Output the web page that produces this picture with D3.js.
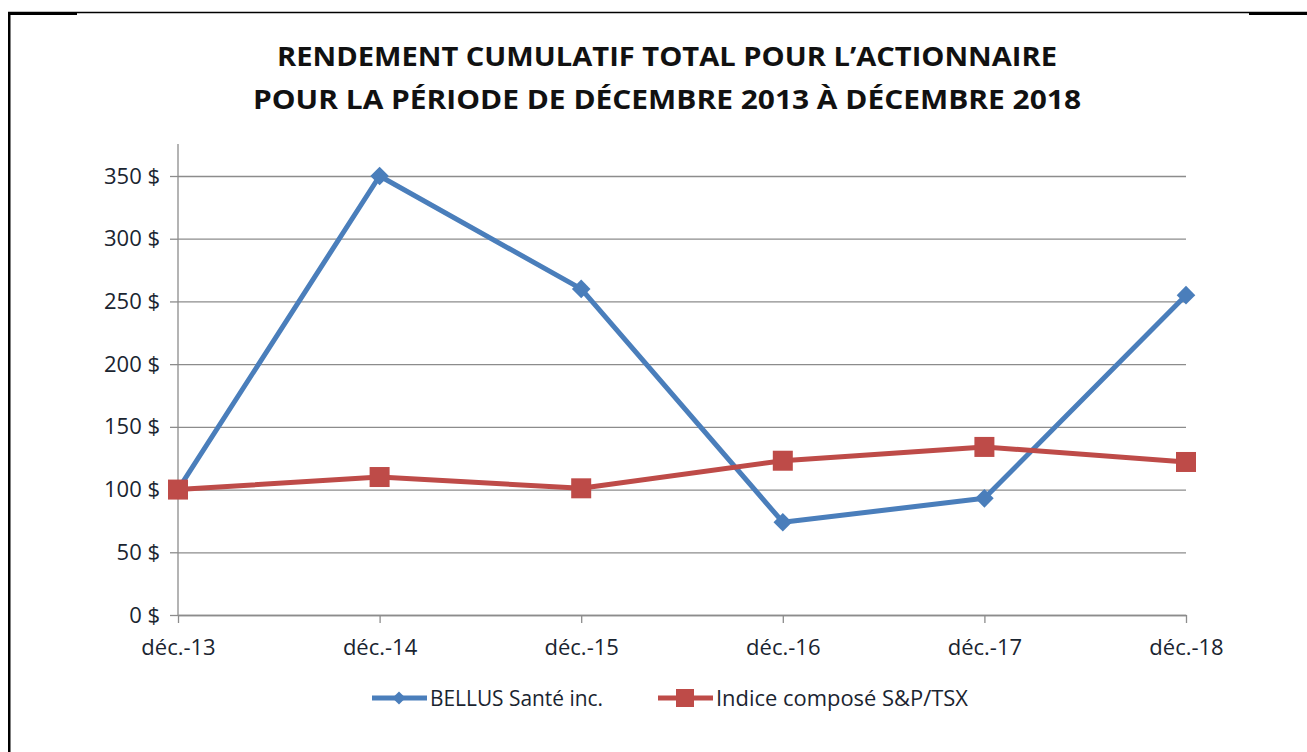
<!DOCTYPE html>
<html>
<head>
<meta charset="utf-8">
<script src="https://cdn.jsdelivr.net/npm/d3@7"></script>
<style>
  body { margin: 0; background: #fff; }
  text { font-family: "Open Sans", "Liberation Sans", sans-serif; }
</style>
</head>
<body>
<script>
const width = 1307;
const height = 752;

const categories = ["déc.-13", "déc.-14", "déc.-15", "déc.-16", "déc.-17", "déc.-18"];
const bellusValues = [100, 350, 260, 74, 93, 255];
const tsxValues = [100, 110, 101, 123, 134, 122];
const yTicks = [0, 50, 100, 150, 200, 250, 300, 350];
const seriesNames = ["BELLUS Santé inc.", "Indice composé S&P/TSX"];
const titleLines = ["RENDEMENT CUMULATIF TOTAL POUR L’ACTIONNAIRE", "POUR LA PÉRIODE DE DÉCEMBRE 2013 À DÉCEMBRE 2018"];

const blueColor = "#4A7EBB";
const redColor = "#BE4B48";
const gridColor = "#8c8c8c";
const labelSize = "22px";

const plot = { left: 178, right: 1186, top: 144, zero: 615 };

const scale = {
  x: d3.scalePoint().domain(categories).range([plot.left, plot.right]),
  y: d3.scaleLinear().domain([0, 350]).range([plot.zero, 176])
};

const svg = d3.select("body")
  .append("svg")
  .attr("width", width)
  .attr("height", height);

appendFrame(svg);
appendTitle(svg);
appendGrid(svg);
appendLines(svg);
appendLegend(svg);

function appendFrame(svg) {
  // thin top rule with thick ends, thick left edge
  svg.append("line").attr("x1", 8).attr("x2", 1307).attr("y1", 12.5).attr("y2", 12.5)
    .attr("stroke", "#000").attr("stroke-width", 1.5);
  svg.append("rect").attr("x", 8).attr("y", 12).attr("width", 69).attr("height", 3).attr("fill", "#000");
  svg.append("rect").attr("x", 1249).attr("y", 12).attr("width", 58).attr("height", 3).attr("fill", "#000");
  svg.append("rect").attr("x", 8).attr("y", 12).attr("width", 2.5).attr("height", height - 12).attr("fill", "#000");
}

function appendTitle(svg) {
  svg.selectAll("text.title")
    .data(titleLines)
    .enter()
    .append("text")
    .attr("class", "title")
    .attr("x", 667)
    .attr("y", (d, i) => 66 + i * 43)
    .attr("text-anchor", "middle")
    .attr("textLength", (d, i) => i === 0 ? 780 : 828)
    .attr("lengthAdjust", "spacingAndGlyphs")
    .style("font-size", "26px")
    .style("font-weight", "bold")
    .attr("fill", "#111")
    .text(d => d);
}

function appendGrid(svg) {
  // horizontal gridlines
  svg.append("g")
    .attr("transform", `translate(${plot.left},0)`)
    .call(d3.axisLeft(scale.y)
      .tickValues(yTicks)
      .tickSize(-(plot.right - plot.left))
      .tickSizeOuter(0)
      .tickFormat(""))
    .call(g => g.select(".domain").remove())
    .call(g => g.selectAll("line").attr("stroke", gridColor).attr("stroke-width", 1.3));

  // y labels with short tick marks
  svg.append("g")
    .attr("transform", `translate(${plot.left},0)`)
    .call(d3.axisLeft(scale.y)
      .tickValues(yTicks)
      .tickSize(8)
      .tickPadding(10)
      .tickFormat(d => d + " $"))
    .call(g => g.select(".domain").remove())
    .call(g => g.selectAll("line").attr("stroke", gridColor).attr("stroke-width", 1.3))
    .call(g => g.selectAll("text")
      .attr("fill", "#1a2430")
      .style("font-size", labelSize)
      .style("font-family", "'Open Sans', sans-serif"));

  // vertical axis line
  svg.append("line")
    .attr("x1", plot.left).attr("x2", plot.left)
    .attr("y1", plot.top).attr("y2", plot.zero)
    .attr("stroke", gridColor).attr("stroke-width", 1.3);

  // category axis
  svg.append("g")
    .attr("transform", `translate(0,${plot.zero})`)
    .call(d3.axisBottom(scale.x).tickSize(8).tickPadding(16).tickSizeOuter(0))
    .call(g => g.select(".domain").attr("stroke", gridColor).attr("stroke-width", 1.3))
    .call(g => g.selectAll("line").attr("stroke", gridColor).attr("stroke-width", 1.3))
    .call(g => g.selectAll("text")
      .attr("fill", "#1a2430")
      .style("font-size", labelSize)
      .style("font-family", "'Open Sans', sans-serif"));
}

function appendLines(svg) {
  const line = d3.line()
    .x((d, i) => scale.x(categories[i]))
    .y(d => scale.y(d));

  svg.append("path")
    .datum(bellusValues)
    .attr("d", line)
    .attr("fill", "none")
    .attr("stroke", blueColor)
    .attr("stroke-width", 5)
    .attr("stroke-linejoin", "round");

  svg.append("path")
    .datum(tsxValues)
    .attr("d", line)
    .attr("fill", "none")
    .attr("stroke", redColor)
    .attr("stroke-width", 5)
    .attr("stroke-linejoin", "round");

  svg.selectAll("path.diamond")
    .data(bellusValues)
    .enter()
    .append("path")
    .attr("class", "diamond")
    .attr("d", d3.symbol().type(d3.symbolDiamond2).size(220))
    .attr("transform", (d, i) => `translate(${scale.x(categories[i])},${scale.y(d)})`)
    .attr("fill", blueColor);

  svg.selectAll("rect.square")
    .data(tsxValues)
    .enter()
    .append("rect")
    .attr("class", "square")
    .attr("x", (d, i) => scale.x(categories[i]) - 10)
    .attr("y", d => scale.y(d) - 10)
    .attr("width", 20)
    .attr("height", 20)
    .attr("fill", redColor);
}

function appendLegend(svg) {
  const items = [
    { name: seriesNames[0], color: blueColor, x: 372, len: 173, marker: "diamond" },
    { name: seriesNames[1], color: redColor, x: 658, len: 252, marker: "square" }
  ];

  const legend = svg.append("g").attr("transform", "translate(0,698)");

  const item = legend.selectAll("g")
    .data(items)
    .enter()
    .append("g")
    .attr("transform", d => `translate(${d.x},0)`);

  item.append("line")
    .attr("x1", 0).attr("x2", 55)
    .attr("stroke", d => d.color)
    .attr("stroke-width", 5);

  item.filter(d => d.marker === "diamond")
    .append("path")
    .attr("d", d3.symbol().type(d3.symbolDiamond2).size(110))
    .attr("transform", "translate(27,0)")
    .attr("fill", d => d.color);

  item.filter(d => d.marker === "square")
    .append("rect")
    .attr("x", 18).attr("y", -9).attr("width", 18).attr("height", 18)
    .attr("fill", d => d.color);

  item.append("text")
    .attr("x", 58)
    .attr("y", 8)
    .attr("textLength", d => d.len)
    .attr("lengthAdjust", "spacingAndGlyphs")
    .style("font-size", labelSize)
    .attr("fill", "#1a2430")
    .text(d => d.name);
}
</script>
</body>
</html>
